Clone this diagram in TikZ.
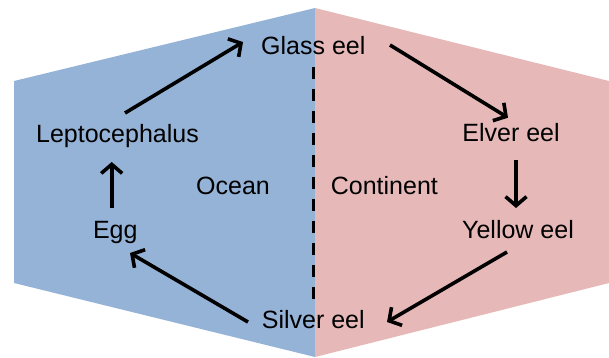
\documentclass[tikz,border=0pt]{standalone}
\usepackage{fontspec}
\setmainfont{Liberation Sans}
\usetikzlibrary{arrows.meta}
\definecolor{oceanblue}{HTML}{95B3D7}
\definecolor{landpink}{HTML}{E6B9B8}
\begin{document}
\begin{tikzpicture}[x=1pt,y=-1pt,
  lbl/.style={anchor=base,inner sep=0pt,font=\fontsize{25}{30}\selectfont},
  arr/.style={line width=3.6pt,-{Straight Barb[length=9pt,width=21pt]}},
  divider/.style={line width=3.5pt,dash pattern=on 12pt off 10pt}]
\useasboundingbox (0,0) rectangle (609,357);
% regions
\fill[oceanblue] (14,81) -- (315,8) -- (315,357) -- (14,283) -- cycle;
\fill[landpink] (315,8) -- (609,81) -- (609,283) -- (315,357) -- cycle;
% divider
\coordinate (dtop) at (313.5,67);
\coordinate (dbot) at (313.5,299);
\draw[divider] (dtop) -- (dbot);
% labels
\node[lbl] (glass) at (313.3,54.3) {Glass eel};
\node[lbl] (lep) at (117.5,142.3) {Leptocephalus};
\node[lbl] (elver) at (511,141.7) {Elver eel};
\node[lbl] (yellow) at (518,238.3) {Yellow eel};
\node[lbl] (egg) at (115.3,238.3) {Egg};
\node[lbl] (silver) at (313.3,328.3) {Silver eel};
\node[lbl] (ocean) at (233,194.3) {Ocean};
\node[lbl] (cont) at (384.4,194.3) {Continent};
% cycle arrows
\draw[arr] ([shift={(7.5,-29.3)}]lep.base) -- ([shift={(-70.3,-12.3)}]glass.base);
\draw[arr] ([shift={(76.7,-9.3)}]glass.base) -- ([shift={(-3,-24)}]elver.base);
\draw[arr] ([shift={(5,18.3)}]elver.base) -- ([shift={(-2,-30.3)}]yellow.base);
\draw[arr] ([shift={(-11,13.7)}]yellow.base) -- ([shift={(73.7,-6.3)}]silver.base);
\draw[arr] ([shift={(-65.3,-6.3)}]silver.base) -- ([shift={(14.7,14.7)}]egg.base);
\draw[arr] ([shift={(-3.6,-30.3)}]egg.base) -- ([shift={(-5.8,19.7)}]lep.base);
\end{tikzpicture}
\end{document}
